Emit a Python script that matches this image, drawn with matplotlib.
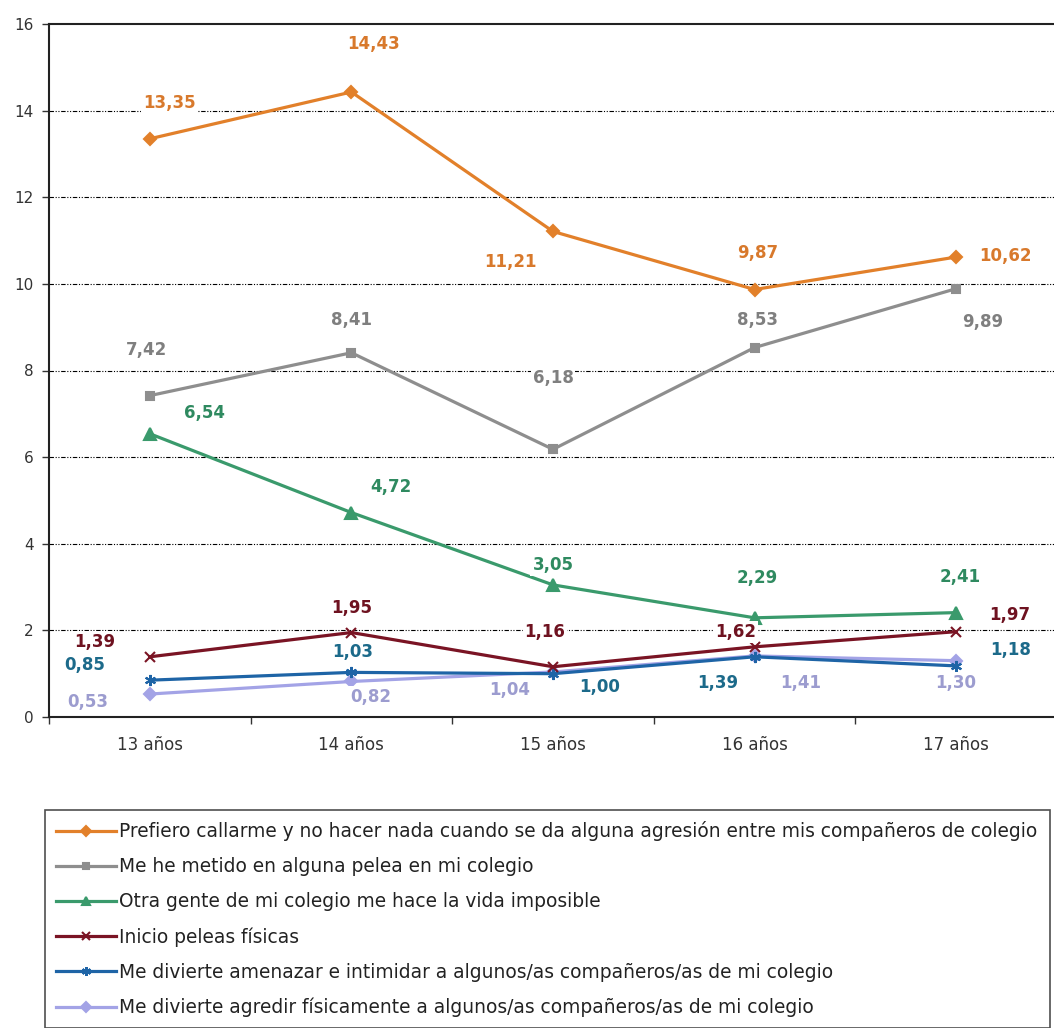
import numpy as np
import matplotlib.pyplot as plt
from matplotlib.ticker import FixedLocator

# data
edades = ["13 años", "14 años", "15 años", "16 años", "17 años"]
callarme = [13.35, 14.43, 11.21, 9.87, 10.62]
pelea = [7.42, 8.41, 6.18, 8.53, 9.89]
vida_imposible = [6.54, 4.72, 3.05, 2.29, 2.41]
peleas_fisicas = [1.39, 1.95, 1.16, 1.62, 1.97]
amenazar = [0.85, 1.03, 1.00, 1.39, 1.18]
agredir = [0.53, 0.82, 1.04, 1.41, 1.30]

nombres = [
    "Prefiero callarme y no hacer nada cuando se da alguna agresión entre mis compañeros de colegio",
    "Me he metido en alguna pelea en mi colegio",
    "Otra gente de mi colegio me hace la vida imposible",
    "Inicio peleas físicas",
    "Me divierte amenazar e intimidar a algunos/as compañeros/as de mi colegio",
    "Me divierte agredir físicamente a algunos/as compañeros/as de mi colegio",
]

# style per series: line colour, label colour, marker, marker size
estilos = [
    ("#E2802A", "#D8792C", "D", 6),
    ("#8E8E8E", "#7F7F7F", "s", 6),
    ("#3A9A6C", "#2F8A60", "^", 8),
    ("#7A1424", "#6E1220", "x", 7),
    ("#1E64A6", "#1C6A8A", (6, 2, 0), 8),
    ("#A3A3E6", "#9C9CCF", "D", 6),
]

# label offsets in pixels from each point
offsets = [
    [(20, 36), (22, 48), (-43, -31), (3, 37), (49, 1)],
    [(-3, 46), (0, 33), (0, 71), (3, 28), (26, -33)],
    [(55, 21), (39, 26), (0, 20), (3, 40), (4, 36)],
    [(-55, 15), (0, 25), (-8, 35), (-19, 15), (54, 17)],
    [(-65, 15), (1, 20), (47, -13), (-37, -26), (54, 16)],
    [(-62, -8), (19, -16), (-43, -18), (46, -27), (-1, -22)],
]

series = [callarme, pelea, vida_imposible, peleas_fisicas, amenazar, agredir]

fig = plt.figure(figsize=(10.54, 10.28), dpi=100)
ax = fig.add_axes([49/1054, 1 - 717/1028, 1008/1054, 693/1028])

x = np.arange(len(edades))
# draw bottom series first so upper ones stay on top like the original
for i in range(len(series) - 1, -1, -1):
    col, lcol, mk, ms = estilos[i]
    ax.plot(x, series[i], color=col, lw=2.3, marker=mk, markersize=ms,
            markeredgewidth=1.5, markeredgecolor=col, label=nombres[i], zorder=3 + (6 - i) * 0.1)
    for j, v in enumerate(series[i]):
        ax.annotate(f"{v:.2f}".replace(".", ","), (x[j], v), xytext=offsets[i][j],
                    textcoords="offset pixels", ha="center", va="center",
                    fontsize=12, fontweight="bold", color=lcol, zorder=5,
                    bbox=dict(facecolor="white", edgecolor="none", pad=1.5))

ax.set_xlim(-0.5, 4.5)
ax.set_ylim(0, 16)
ax.set_yticks(np.arange(0, 17, 2))
ax.set_yticklabels([str(t) for t in range(0, 17, 2)], fontsize=11, color="#333333")
ax.set_xticks(x)
ax.set_xticklabels(edades, fontsize=12, color="#333333")
ax.xaxis.set_minor_locator(FixedLocator(np.arange(-0.5, 5, 1)))
ax.tick_params(axis="x", which="major", length=0, pad=14)
ax.tick_params(axis="x", which="minor", length=5, width=1, color="#333333")
ax.tick_params(axis="y", length=5, width=1, color="#333333", pad=6)

for y in range(2, 16, 2):
    ax.axhline(y, color="black", lw=0.8, dashes=(4, 1.5, 1, 1.5, 1, 1.5), zorder=1)

for s in ["left", "top", "bottom"]:
    ax.spines[s].set_color("#222222")
    ax.spines[s].set_linewidth(1.5)
ax.spines["right"].set_visible(False)

# legend in original series order
h, l = ax.get_legend_handles_labels()
h, l = h[::-1], l[::-1]
leg = fig.legend(h, l, loc="upper left", bbox_to_anchor=(45/1054, 1 - 810/1028, 1005/1054, 0.0),
                 mode="expand", prop={"size": 13.4},
                 frameon=True, fancybox=False, edgecolor="#222222", borderaxespad=0,
                 handlelength=3.2, handletextpad=0.2, labelspacing=0.86, borderpad=0.6,
                 markerscale=0.8)
leg.get_frame().set_linewidth(1.2)
for t in leg.get_texts():
    t.set_color("#222222")

fig.savefig("out.png", dpi=100)
